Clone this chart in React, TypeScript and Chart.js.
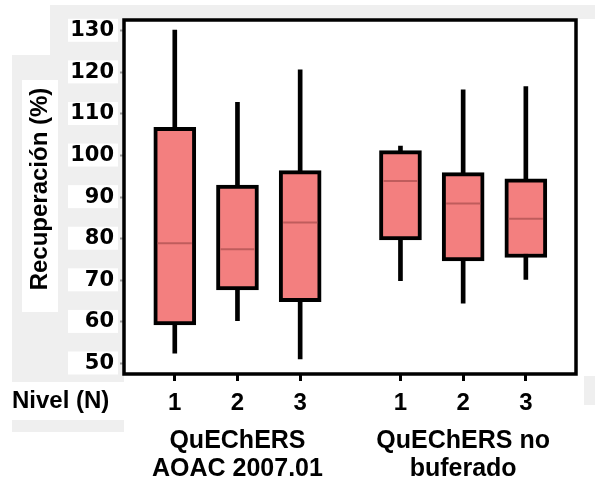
import React, { useEffect, useRef } from 'react';
import { Chart, registerables } from 'chart.js';

Chart.register(...registerables);

// ---- data ----
const levelLabels = ['1', '2', '3', '1', '2', '3'];
const levelPositions = [1, 2, 3, 4.6, 5.6, 6.6];
const whiskerMin = [52.5, 60.3, 51.1, 69.9, 64.5, 70.2];
const quartile1 = [59.3, 67.7, 64.9, 79.7, 74.7, 75.5];
const medians = [78.9, 77.5, 83.9, 93.9, 88.5, 84.8];
const quartile3 = [106.8, 92.9, 96.4, 101.2, 95.9, 94.4];
const whiskerMax = [130.2, 112.8, 120.6, 102.3, 115.8, 116.6];
const yTicks = [50, 60, 70, 80, 90, 100, 110, 120, 130];
const groupLabels = [
  ['QuEChERS', 'AOAC 2007.01'],
  ['QuEChERS no', 'buferado'],
];
const groupMembers = [
  [0, 1, 2],
  [3, 4, 5],
];
const yTitle = 'Recuperación (%)';
const xTitle = 'Nivel (N)';

const ARIAL = '"Liberation Sans", Arial, sans-serif';
const DEJAVU = '"DejaVu Sans", sans-serif';

const decorPlugin = {
  id: 'decor',
  beforeDraw(chart: any) {
    const { ctx, width, height } = chart;
    const yScale = chart.scales.y;
    ctx.save();
    ctx.fillStyle = '#ffffff';
    ctx.fillRect(0, 0, width, height);
    ctx.fillStyle = '#efefef';
    ctx.fillRect(50, 5, width - 50, 14);
    ctx.fillRect(50, 5, 74, 50);
    ctx.fillRect(12, 55, 112, 377);
    ctx.fillRect(584, 376, 11, 29);
    ctx.fillStyle = '#ffffff';
    ctx.fillRect(22, 80, 36, 232);
    ctx.fillRect(12, 382, 113, 38);
    yTicks.forEach((v) => {
      const y = yScale.getPixelForValue(v);
      ctx.fillRect(68, y - 12, 50, 23);
    });
    ctx.restore();
  },
  afterDraw(chart: any) {
    const { ctx, chartArea } = chart;
    const xScale = chart.scales.x;
    ctx.save();
    ctx.strokeStyle = '#000000';
    ctx.lineWidth = 3.5;
    ctx.strokeRect(
      chartArea.left,
      chartArea.top,
      chartArea.right - chartArea.left,
      chartArea.bottom - chartArea.top
    );
    ctx.fillStyle = '#000000';
    ctx.font = `bold 24px ${ARIAL}`;
    // y axis title
    ctx.save();
    ctx.translate(40, 189);
    ctx.rotate(-Math.PI / 2);
    ctx.textAlign = 'center';
    ctx.textBaseline = 'middle';
    ctx.fillText(yTitle, 0, 0);
    ctx.restore();
    // x axis row title
    ctx.textAlign = 'left';
    ctx.textBaseline = 'alphabetic';
    ctx.fillText(xTitle, 12, 407.5);
    // group labels
    ctx.font = `bold 25px ${ARIAL}`;
    ctx.textAlign = 'center';
    groupLabels.forEach((lines, g) => {
      const idx = groupMembers[g];
      const cx =
        idx.reduce((s, i) => s + xScale.getPixelForValue(levelPositions[i]), 0) / idx.length;
      lines.forEach((line, k) => ctx.fillText(line, cx, 448 + k * 28));
    });
    ctx.restore();
  },
};

export default function App() {
  const canvasRef = useRef<HTMLCanvasElement | null>(null);

  useEffect(() => {
    const canvas = canvasRef.current;
    if (!canvas) return;
    const chart = new Chart(canvas, {
      type: 'bar',
      data: {
        datasets: [
          {
            type: 'scatter',
            label: 'Mediana',
            data: levelPositions.map((x, i) => ({ x, y: medians[i] })),
            pointStyle: 'line',
            pointRadius: 17,
            pointBorderColor: '#bf5c5c',
            pointBorderWidth: 2,
            pointBackgroundColor: '#bf5c5c',
            order: 0,
          } as any,
          {
            type: 'bar',
            label: 'Caja',
            data: levelPositions.map((x, i) => ({ x, y: [quartile1[i], quartile3[i]] })),
            backgroundColor: '#f37f7f',
            borderColor: '#000000',
            borderWidth: 4,
            borderSkipped: false,
            barThickness: 42,
            grouped: false,
            order: 1,
          } as any,
          {
            type: 'bar',
            label: 'Bigotes',
            data: levelPositions.map((x, i) => ({ x, y: [whiskerMin[i], whiskerMax[i]] })),
            backgroundColor: '#000000',
            borderWidth: 0,
            barThickness: 4,
            grouped: false,
            order: 2,
          } as any,
        ],
      },
      options: {
        animation: false,
        responsive: false,
        maintainAspectRatio: false,
        layout: { padding: { left: 0, top: 20, right: 2, bottom: 0 } },
        plugins: { legend: { display: false }, tooltip: { enabled: false } },
        scales: {
          x: {
            type: 'linear',
            min: 0.19,
            max: 7.4,
            offset: false,
            afterBuildTicks: (s: any) => {
              s.ticks = levelPositions.map((v) => ({ value: v }));
            },
            afterFit: (s: any) => {
              s.height = 106;
            },
            grid: {
              offset: false,
              drawOnChartArea: false,
              drawTicks: true,
              tickLength: 7,
              tickWidth: 3,
              tickColor: '#000000',
            },
            border: { display: false },
            ticks: {
              autoSkip: false,
              maxRotation: 0,
              padding: 8,
              color: '#000000',
              font: { family: ARIAL, size: 24, weight: 'bold' },
              callback: (_v: any, i: number) => levelLabels[i],
            },
          },
          y: {
            type: 'linear',
            min: 47.48,
            max: 132.6,
            afterBuildTicks: (s: any) => {
              s.ticks = yTicks.map((v) => ({ value: v }));
            },
            afterFit: (s: any) => {
              s.width = 124;
            },
            grid: {
              drawOnChartArea: false,
              drawTicks: true,
              tickLength: 4,
              tickWidth: 2,
              tickColor: '#9a9a9a',
            },
            border: { display: false },
            ticks: {
              padding: 6,
              color: '#000000',
              font: { family: DEJAVU, size: 21, weight: 'bold' },
              callback: (v: any) => String(v),
            },
          },
        },
      } as any,
      plugins: [decorPlugin],
    });
    return () => chart.destroy();
  }, []);

  return (
    <div style={{ position: 'fixed', left: 0, top: 0, width: 595, height: 480 }}>
      <canvas ref={canvasRef} width={595} height={480} style={{ display: 'block' }} />
    </div>
  );
}
